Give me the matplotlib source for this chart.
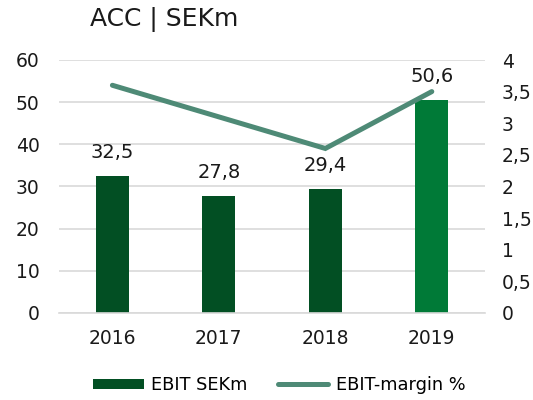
import numpy as np
import matplotlib.pyplot as plt

plt.rcParams['font.family'] = ['DejaVu Sans']

# data
years = ['2016', '2017', '2018', '2019']
ebit = [32.5, 27.8, 29.4, 50.6]
margin = [3.6, 3.1, 2.6, 3.5]
left_ticks = [0, 10, 20, 30, 40, 50, 60]
right_ticks = [0, 0.5, 1, 1.5, 2, 2.5, 3, 3.5, 4]

dark = '#024f23'
bright = '#007a37'
line_col = '#4e8a76'
grid_col = '#d9d9d9'

fig = plt.figure(figsize=(5.33, 4.0), dpi=100)
ax = fig.add_axes([0.111, 0.218, 0.799, 0.632])
x = np.arange(len(years))

bar_colors = [dark, dark, dark, bright]
bars = ax.bar(x, ebit, width=0.31, color=bar_colors, zorder=2, label='EBIT SEKm')
ax.bar_label(bars, labels=[f'{v:.1f}'.replace('.', ',') for v in ebit],
             padding=10, fontsize=14, color='#1a1a1a')

ax.set_xlim(-0.5, 3.5)
ax.set_ylim(0, 60)
ax.set_yticks(left_ticks)
ax.set_xticks(x)
ax.set_xticklabels(years)
ax.yaxis.grid(True, color=grid_col, linewidth=1.2, zorder=0)
ax.set_axisbelow(True)
for s in ['top', 'left', 'right']:
    ax.spines[s].set_visible(False)
ax.spines['bottom'].set_color(grid_col)
ax.spines['bottom'].set_linewidth(1.2)
ax.tick_params(axis='y', length=0, pad=14, labelsize=13.5, labelcolor='#1a1a1a')
ax.tick_params(axis='x', length=0, pad=12, labelsize=13.5, labelcolor='#1a1a1a')

ax2 = ax.twinx()
ax2.plot(x, margin, color=line_col, linewidth=3.6, solid_capstyle='round',
         solid_joinstyle='miter', label='EBIT-margin %')
ax2.set_ylim(0, 4)
ax2.set_yticks(right_ticks)
ax2.set_yticklabels([f'{t:g}'.replace('.', ',') for t in right_ticks])
for s in ax2.spines.values():
    s.set_visible(False)
ax2.tick_params(axis='y', length=0, pad=12, labelsize=13.5, labelcolor='#1a1a1a')

fig.text(0.169, 0.952, 'ACC | SEKm', fontsize=18, va='center', ha='left', color='#1a1a1a')

h1, l1 = ax.get_legend_handles_labels()
h2, l2 = ax2.get_legend_handles_labels()
fig.legend(h1 + h2, l1 + l2, loc='center', bbox_to_anchor=(0.524, 0.037), ncol=2,
           frameon=False, fontsize=12.8, handlelength=2.85, handleheight=0.56,
           handletextpad=0.4, columnspacing=1.7)

fig.savefig('out.png', dpi=100)
